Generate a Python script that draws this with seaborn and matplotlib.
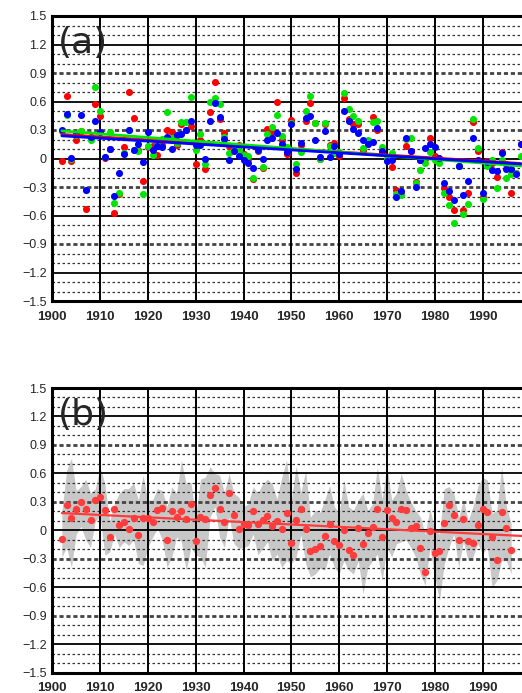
"""
Two-panel annual anomaly chart: (a) three series with linear trends,
(b) ensemble mean with min/max spread band and its trend.
"""

import matplotlib
matplotlib.use("Agg")  # no display
import matplotlib.pyplot as plt
import numpy as np
import pandas as pd
import seaborn as sns
from matplotlib.ticker import FuncFormatter, MultipleLocator

# ---- data, panel (a): 1902-1998 ----
years_a = list(range(1902, 1999))

red_a = [
    -0.03, 0.66, -0.03, 0.19, 0.29, -0.53, 0.22, 0.57, 0.45, 0.01,
    0.10, -0.57, -0.37, 0.12, 0.70, 0.43, 0.09, -0.24, 0.12, 0.13,
    0.04, 0.14, 0.30, 0.28, 0.14, 0.36, 0.30, 0.34, -0.06, 0.20,
    -0.11, 0.49, 0.81, 0.42, 0.27, 0.13, 0.11, 0.14, 0.05, 0.00,
    -0.22, 0.08, -0.10, 0.31, 0.28, 0.60, 0.19, 0.05, 0.41, -0.15,
    0.14, 0.39, 0.58, 0.37, 0.00, 0.36, 0.14, 0.16, 0.03, 0.64,
    0.42, 0.36, 0.36, 0.09, 0.18, 0.44, 0.30, 0.06, 0.00, -0.09,
    -0.33, -0.36, 0.13, 0.08, -0.25, -0.02, 0.00, 0.22, 0.03, 0.00,
    -0.31, -0.40, -0.54, -0.08, -0.54, -0.36, 0.38, 0.08, -0.41, -0.03,
    -0.05, -0.19, 0.07, -0.06, -0.36, -0.15, 0.15,
]
green_a = [
    0.29, 0.46, 0.00, 0.25, 0.29, -0.33, 0.19, 0.75, 0.50, 0.02,
    0.28, -0.47, -0.36, 0.06, 0.30, 0.09, 0.08, -0.37, 0.13, 0.04,
    0.14, 0.21, 0.49, 0.22, 0.16, 0.38, 0.38, 0.65, 0.09, 0.26,
    -0.06, 0.59, 0.64, 0.57, 0.23, 0.06, 0.09, 0.09, 0.04, 0.03,
    -0.20, 0.09, -0.09, 0.26, 0.33, 0.46, 0.24, 0.12, 0.37, -0.06,
    0.07, 0.50, 0.66, 0.37, -0.01, 0.37, 0.13, 0.06, 0.07, 0.69,
    0.52, 0.45, 0.39, 0.11, 0.20, 0.38, 0.39, 0.12, 0.00, 0.06,
    -0.37, -0.38, 0.21, 0.22, -0.26, -0.12, -0.05, 0.07, -0.02, -0.05,
    -0.36, -0.49, -0.68, -0.08, -0.58, -0.48, 0.42, 0.11, -0.43, -0.08,
    -0.02, -0.31, -0.02, -0.20, -0.16, -0.15, 0.03,
]
blue_a = [
    0.30, 0.47, 0.01, 0.26, 0.46, -0.33, 0.23, 0.40, 0.28, 0.02,
    0.10, -0.39, -0.15, 0.05, 0.30, 0.09, 0.15, -0.04, 0.28, 0.09,
    0.13, 0.12, 0.23, 0.10, 0.25, 0.26, 0.30, 0.40, 0.14, 0.14,
    -0.01, 0.39, 0.58, 0.44, 0.21, -0.02, 0.08, 0.03, -0.02, -0.05,
    -0.10, 0.09, 0.00, 0.20, 0.22, 0.27, 0.15, 0.07, 0.36, -0.11,
    0.16, 0.43, 0.45, 0.19, 0.02, 0.29, 0.02, 0.13, 0.05, 0.50,
    0.40, 0.31, 0.27, 0.19, 0.15, 0.17, 0.32, 0.08, -0.03, -0.02,
    -0.40, -0.34, 0.22, 0.08, -0.30, -0.02, 0.11, 0.15, 0.12, 0.01,
    -0.26, -0.34, -0.44, -0.08, -0.38, -0.24, 0.22, -0.02, -0.36, -0.04,
    -0.12, -0.13, 0.06, -0.11, -0.11, -0.16, 0.15,
]

# ---- data, panel (b): 1902-1996 ----
years_b = list(range(1902, 1997))

mean_b = [
    -0.09, 0.27, 0.13, 0.23, 0.30, 0.23, 0.11, 0.32, 0.35, 0.21,
    -0.07, 0.22, 0.06, 0.09, 0.01, 0.13, -0.05, 0.13, 0.13, 0.09,
    0.21, 0.24, -0.10, 0.20, 0.14, 0.20, 0.12, 0.28, -0.11, 0.14,
    0.12, 0.37, 0.45, 0.22, 0.09, 0.39, 0.165, 0.01, 0.07, 0.06,
    0.20, 0.07, 0.11, 0.15, 0.05, 0.10, 0.01, 0.18, -0.13, 0.11,
    0.22, 0.01, -0.22, -0.20, -0.16, -0.06, 0.07, -0.11, -0.15, 0.00,
    -0.21, -0.26, 0.03, -0.14, -0.03, 0.04, 0.22, -0.07, 0.21, 0.13,
    0.09, 0.23, 0.21, 0.02, 0.05, -0.19, -0.44, -0.01, -0.24, -0.22,
    0.08, 0.27, 0.16, -0.105, 0.12, -0.11, -0.13, 0.06, 0.22, 0.19,
    -0.07, -0.31, 0.19, 0.03, -0.21,
]
upper_b = [
    0.20, 0.63, 0.76, 0.42, 0.46, 0.54, 0.39, 0.44, 0.67, 0.49,
    0.10, 0.28, 0.39, 0.44, 0.44, 0.50, 0.32, 0.58, 0.32, 0.32,
    0.44, 0.42, 0.25, 0.46, 0.39, 0.74, 0.49, 0.51, 0.14, 0.54,
    0.56, 0.67, 0.60, 0.58, 0.40, 0.60, 0.39, 0.35, 0.25, 0.28,
    0.46, 0.39, 0.49, 0.54, 0.49, 0.33, 0.56, 0.74, 0.32, 0.68,
    0.40, 0.63, 0.14, 0.21, 0.19, 0.32, 0.47, 0.25, 0.18, 0.53,
    0.25, 0.21, 0.32, 0.39, 0.21, 0.28, 0.67, 0.33, 0.68, 0.32,
    0.39, 0.60, 0.42, 0.30, 0.21, 0.14, -0.04, 0.23, 0.00, -0.04,
    0.44, 0.46, 0.39, 0.14, 0.32, 0.10, 0.25, 0.46, 0.56, 0.53,
    0.18, 0.21, 0.67, 0.25, 0.07,
]
lower_b = [
    -0.28, -0.18, -0.39, -0.04, 0.04, -0.10, -0.18, 0.10, 0.14, -0.26,
    -0.23, -0.04, -0.18, -0.12, -0.16, -0.10, -0.35, -0.37, -0.18, -0.07,
    0.02, -0.10, -0.39, -0.28, -0.07, -0.12, -0.42, -0.18, -0.26, -0.28,
    -0.39, 0.14, 0.25, -0.07, -0.18, 0.14, -0.14, -0.19, -0.18, -0.16,
    -0.04, -0.26, -0.19, -0.12, -0.32, -0.25, -0.39, -0.32, -0.35, -0.28,
    -0.05, -0.35, -0.49, -0.46, -0.40, -0.42, -0.25, -0.39, -0.46, -0.32,
    -0.42, -0.46, -0.32, -0.67, -0.39, -0.32, -0.25, -0.53, -0.18, -0.28,
    -0.14, -0.12, -0.10, -0.18, -0.28, -0.46, -0.58, -0.18, -0.49, -0.74,
    -0.35, -0.18, -0.04, -0.39, -0.12, -0.32, -0.28, -0.14, -0.25, -0.18,
    -0.60, -0.53, -0.32, -0.32, -0.46,
]

RED = "#ff0000"
GREEN = "#00e600"
BLUE = "#0000ff"
DOT_B = "#ff3c3c"
BAND = "#c8c8c8"

sns.set_style("white")
plt.rcParams["font.family"] = ["Liberation Sans", "DejaVu Sans"]
plt.rcParams["axes.unicode_minus"] = True


def fmt_y(v, _pos):
    if abs(v) < 1e-9:
        return "0"
    return f"{v:.1f}".replace("-", "\u2212")


def style_axes(ax, label):
    ax.set_xlim(1900, 1998.26)
    ax.set_ylim(-1.5, 1.5)
    ax.xaxis.set_major_locator(MultipleLocator(10))
    ax.yaxis.set_major_locator(MultipleLocator(0.3))
    ax.yaxis.set_major_formatter(FuncFormatter(fmt_y))

    # horizontal grid every 0.1: solid at 0.6 steps, heavy dash at odd 0.3, light dash otherwise
    for k in range(-14, 15):
        v = k / 10
        if k % 6 == 0:
            ax.axhline(v, color="black", lw=1.3, zorder=1)
        elif k % 3 == 0:
            ax.axhline(v, color="#444444", lw=2.0, ls=(0, (1.5, 1)), zorder=1)
        else:
            ax.axhline(v, color="#333333", lw=0.9, ls=(0, (2, 2)), zorder=1)
    for yr in range(1910, 2000, 10):
        ax.axvline(yr, color="black", lw=1.4, zorder=1)

    for side in ("left", "top", "bottom"):
        ax.spines[side].set_linewidth(2.2)
        ax.spines[side].set_color("black")
    ax.spines["right"].set_visible(False)

    ax.tick_params(axis="both", length=0)
    ax.tick_params(axis="y", labelsize=9, pad=4)
    ax.tick_params(axis="x", labelsize=9.5, pad=7)
    for t in ax.get_xticklabels():
        t.set_fontweight("bold")
    ax.set_xlabel("")
    ax.set_ylabel("")
    ax.text(0.012, 0.905, label, transform=ax.transAxes, fontsize=26,
            family="DejaVu Sans", ha="left", va="center", zorder=6)


fig = plt.figure(figsize=(5.22, 6.93), dpi=100)
ax_a = fig.add_axes([52.3 / 522, 1 - 301 / 693, 469.7 / 522, 285 / 693])
ax_b = fig.add_axes([52.3 / 522, 1 - 672.7 / 693, 469.7 / 522, 284.7 / 693])

# ---- panel (a) ----
df_a = pd.DataFrame({"year": years_a, "red": red_a, "green": green_a, "blue": blue_a})
for col, colour in (("red", RED), ("green", GREEN), ("blue", BLUE)):
    sns.scatterplot(data=df_a, x="year", y=col, ax=ax_a, color=colour,
                    s=26, linewidth=0, zorder=3, clip_on=True)
for col, colour in (("red", RED), ("green", GREEN), ("blue", BLUE)):
    sns.regplot(data=df_a, x="year", y=col, ax=ax_a, scatter=False, ci=None,
                truncate=True, color=colour, line_kws={"lw": 2, "zorder": 4})
style_axes(ax_a, "(a)")

# ---- panel (b) ----
df_b = pd.DataFrame({"year": years_b, "mean": mean_b, "upper": upper_b, "lower": lower_b})
ax_b.fill_between(df_b["year"], df_b["lower"], df_b["upper"], color=BAND,
                  lw=0, zorder=0.5)
sns.scatterplot(data=df_b, x="year", y="mean", ax=ax_b, color=DOT_B,
                s=28, linewidth=0, zorder=3)
slope, icpt = np.polyfit(df_b["year"], df_b["mean"], 1)
trend_x = np.array([years_b[0], years_a[-1] + 1])
sns.lineplot(x=trend_x, y=slope * trend_x + icpt, ax=ax_b, color=DOT_B,
             lw=1.6, zorder=4)
style_axes(ax_b, "(b)")

fig.savefig("out.png", dpi=100)
plt.close(fig)
